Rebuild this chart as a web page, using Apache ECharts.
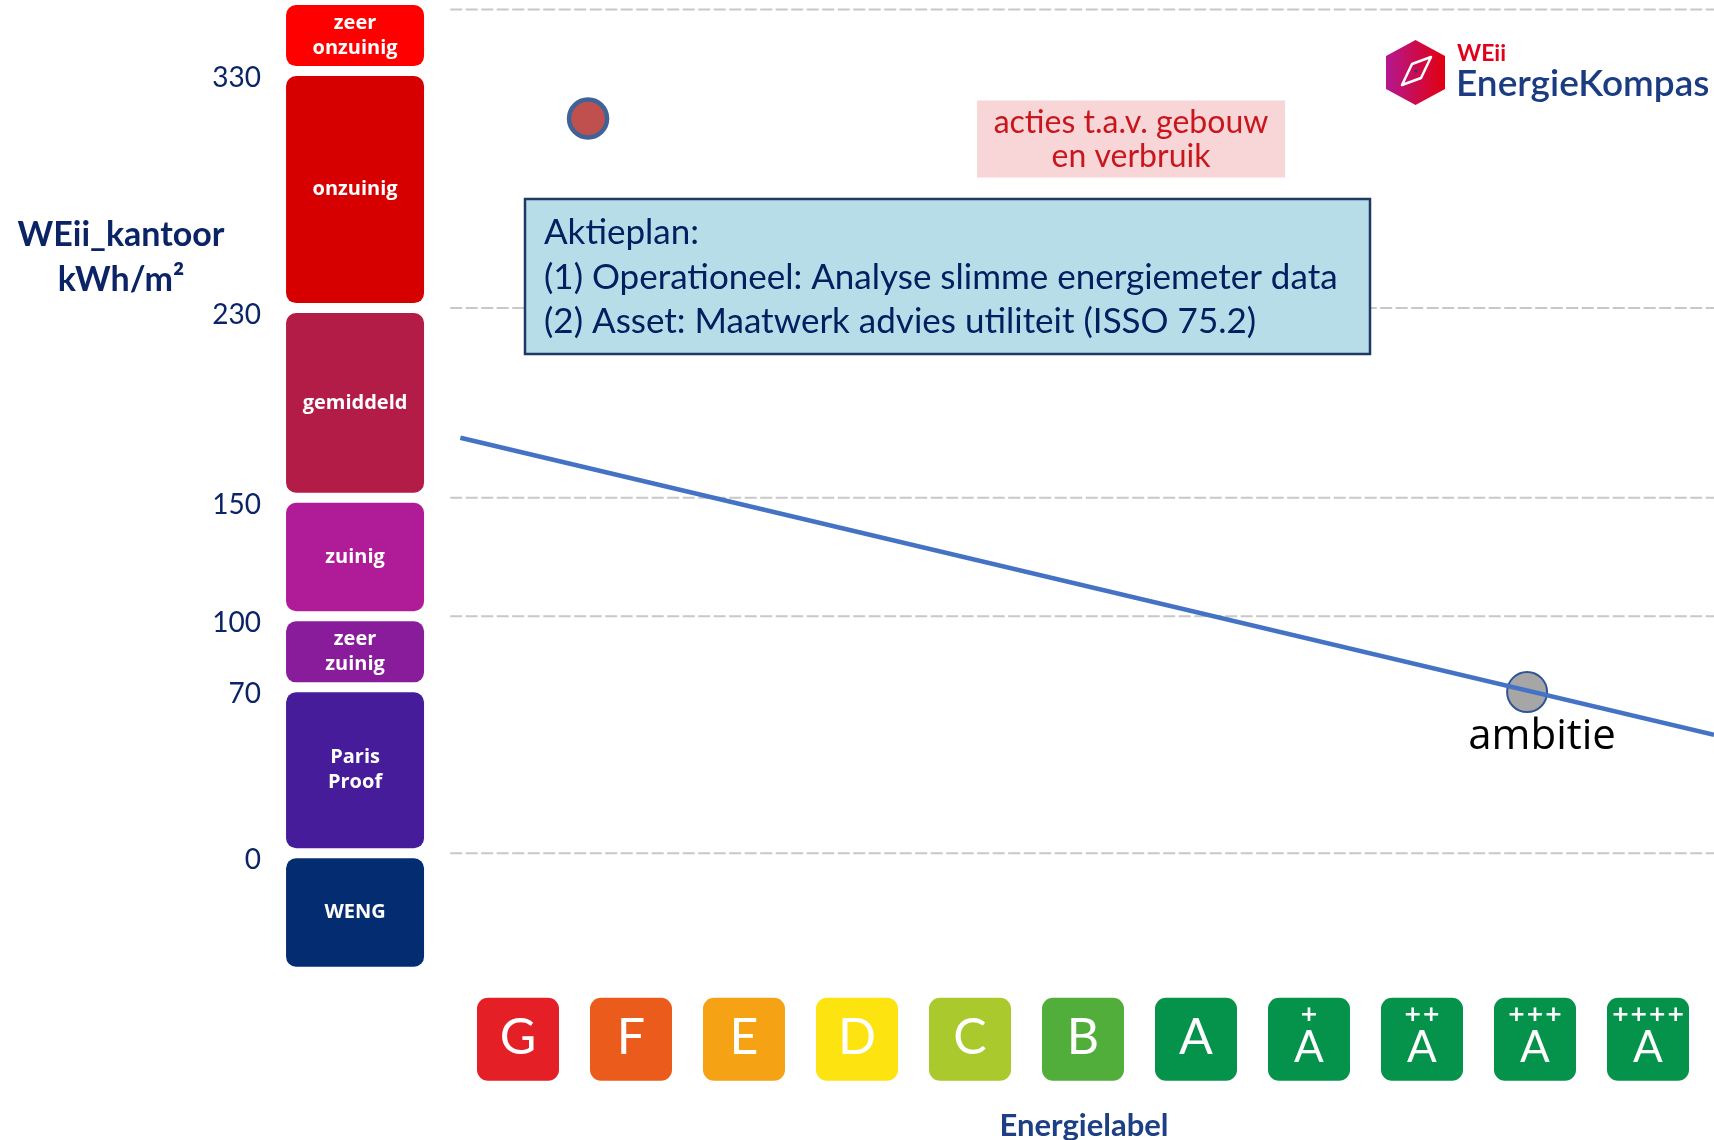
<!DOCTYPE html>
<html><head><meta charset="utf-8">
<script src="https://cdn.jsdelivr.net/npm/echarts@6/dist/echarts.min.js"></script>
<style>html,body{margin:0;padding:0;background:#fff}#c{width:1714px;height:1140px}</style>
</head><body><div id="c"></div>
<script>
// ---- data ----
const yTickLabels = [0, 70, 100, 150, 230, 330];
const gridLineValues = [356, 230, 150, 100, 0];
const bandNames = ['zeer\nonzuinig', 'onzuinig', 'gemiddeld', 'zuinig', 'zeer\nzuinig', 'Paris\nProof', 'WENG'];
const bandLow = [330, 230, 150, 100, 70, 0, -50];
const bandHigh = [360, 330, 230, 150, 100, 70, 0];
const bandColors = ['#fe0000', '#d70000', '#b21c46', '#b01c97', '#881c9a', '#461c9b', '#032d70'];
const energyLabels = ['G', 'F', 'E', 'D', 'C', 'B', 'A', 'A+', 'A++', 'A+++', 'A++++'];
const energyColors = ['#e41f26', '#eb5c1c', '#f5a314', '#fde30f', '#a9c92c', '#52ae3a', '#05924a', '#05924a', '#05924a', '#05924a', '#05924a'];
const trendX = [-0.51, 10.584];
const trendY = [175.3, 50.0];
const currentPoint = [0.62, 310];
const ambitionPoint = [8.93, 68];
const ambitionLabel = 'ambitie';

// ---- layout constants ----
const XMIN = -4.584, XMAX = 10.584, YMIN = -121, YMAX = 360;
const GRID_X0 = -0.6;
const BAND_X = -1.442, BAND_W = 138, BAND_GAP = 5;
const LABEL_TOP = -61, LABEL_BOTTOM = -96, LABEL_W = 82;
const NAVY = '#0b2466';

const chart = echarts.init(document.getElementById('c'), null, {renderer: 'canvas'});

const option = {
  animation: false,
  backgroundColor: '#ffffff',
  grid: {left: 0, right: 0, top: 0, bottom: 0},
  xAxis: {type: 'value', min: XMIN, max: XMAX, show: false},
  yAxis: {
    type: 'value', min: YMIN, max: YMAX, position: 'left', offset: -261,
    axisLine: {show: false}, axisTick: {show: false}, splitLine: {show: false},
    axisLabel: {customValues: yTickLabels, margin: 0, color: NAVY, fontSize: 28,
      fontFamily: 'Lato, "Liberation Sans", sans-serif', verticalAlign: 'top', lineHeight: 14}
  },
  series: [
    {
      type: 'custom', z: 1, silent: true,
      data: gridLineValues.map(v => [GRID_X0, v]),
      encode: {x: 0, y: 1},
      renderItem(params, api) {
        const a = api.coord([GRID_X0, api.value(1)]);
        const b = api.coord([XMAX, api.value(1)]);
        return {type: 'line', shape: {x1: a[0], y1: a[1], x2: b[0], y2: b[1]},
          style: {stroke: '#c8c8c8', lineWidth: 2, lineDash: [12, 3.5]}};
      }
    },
    {
      type: 'custom', z: 2, silent: true,
      data: bandNames.map((n, i) => [BAND_X, bandLow[i], bandHigh[i], i]),
      encode: {x: 0, y: [1, 2]},
      renderItem(params, api) {
        const i = api.value(3);
        const top = api.coord([api.value(0), api.value(2)]);
        const bot = api.coord([api.value(0), api.value(1)]);
        const y = top[1] + BAND_GAP;
        const h = bot[1] - top[1] - 2 * BAND_GAP;
        return {type: 'group', children: [
          {type: 'rect', shape: {x: top[0] - BAND_W / 2, y: y, width: BAND_W, height: h, r: 10},
            style: {fill: bandColors[i]}},
          {type: 'text', x: top[0], y: y + h / 2,
            style: {text: bandNames[i], fill: '#ffffff', font: 'bold 20px "Open Sans", "Noto Sans", sans-serif',
              align: 'center', verticalAlign: 'middle', lineHeight: 25}}
        ]};
      }
    },
    {
      type: 'custom', z: 2, silent: true,
      data: energyLabels.map((l, i) => [i, i]),
      encode: {x: 0},
      renderItem(params, api) {
        const i = api.value(1);
        const lab = energyLabels[i];
        const t = api.coord([api.value(0), LABEL_TOP]);
        const b = api.coord([api.value(0), LABEL_BOTTOM]);
        const h = b[1] - t[1];
        const cx = t[0];
        const plus = lab.slice(1);
        const children = [
          {type: 'rect', shape: {x: cx - LABEL_W / 2, y: t[1], width: LABEL_W, height: h, r: 11},
            style: {fill: energyColors[i]}},
          {type: 'text', x: cx, y: t[1] + h / 2 + (plus ? 9 : -1),
            style: {text: lab[0], fill: '#ffffff', font: (plus ? '44px' : '50px') + ' Lato, "Noto Sans", sans-serif',
              align: 'center', verticalAlign: 'middle'}}
        ];
        if (plus) {
          children.push({type: 'text', x: cx, y: t[1] + 17,
            style: {text: plus, fill: '#ffffff', font: 'bold 22px "DejaVu Sans", sans-serif',
              align: 'center', verticalAlign: 'middle'}});
        }
        return {type: 'group', children};
      }
    },
    {
      type: 'scatter', z: 3,
      data: [currentPoint],
      symbolSize: 38,
      itemStyle: {color: '#c0504d', borderColor: '#3f6399', borderWidth: 4.5, opacity: 1}
    },
    {
      type: 'scatter', z: 3,
      data: [ambitionPoint],
      symbolSize: 40,
      itemStyle: {color: '#a6a6a6', borderColor: '#2f5597', borderWidth: 2, opacity: 1},
      label: {show: true, formatter: ambitionLabel, position: 'bottom', distance: 0, offset: [15, 3],
        color: '#000000', fontSize: 42, fontFamily: '"Open Sans", "Noto Sans", sans-serif'}
    },
    {
      type: 'line', z: 4,
      data: trendX.map((x, i) => [x, trendY[i]]),
      symbol: 'none',
      lineStyle: {color: '#4472c4', width: 4.5}
    }
  ],
  graphic: [
    // y-axis title
    {type: 'text', x: 121, y: 258, z: 10,
      style: {text: 'WEii_kantoor\nkWh/m²', fill: NAVY, font: 'bold 34px Lato, "Liberation Sans", sans-serif',
        align: 'center', verticalAlign: 'middle', lineHeight: 45}},
    // x-axis name
    {type: 'text', x: 1084, y: 1126, z: 10,
      style: {text: 'Energielabel', fill: '#1d3f85', font: 'bold 31px Lato, "Liberation Sans", sans-serif',
        align: 'center', verticalAlign: 'middle'}},
    // actieplan box
    {type: 'rect', z: 10, shape: {x: 525, y: 199, width: 845, height: 155},
      style: {fill: '#b7dde8', stroke: '#1f3864', lineWidth: 2.5}},
    {type: 'text', z: 11, x: 544, y: 233,
      style: {text: 'Aktieplan:', fill: '#002060', font: '35px Lato, "Liberation Sans", sans-serif', verticalAlign: 'middle'}},
    {type: 'text', z: 11, x: 544, y: 278,
      style: {text: '(1) Operationeel: Analyse slimme energiemeter data', fill: '#002060', font: '35px Lato, "Liberation Sans", sans-serif', verticalAlign: 'middle'}},
    {type: 'text', z: 11, x: 544, y: 322,
      style: {text: '(2) Asset: Maatwerk advies utiliteit (ISSO 75.2)', fill: '#002060', font: '35px Lato, "Liberation Sans", sans-serif', verticalAlign: 'middle'}},
    // acties box
    {type: 'rect', z: 10, shape: {x: 977, y: 100.5, width: 308, height: 77},
      style: {fill: '#f8d6d8'}},
    {type: 'text', z: 11, x: 1131, y: 140,
      style: {text: 'acties t.a.v. gebouw\nen verbruik', fill: '#c8161d', font: '32px Lato, "Noto Sans", sans-serif',
        align: 'center', verticalAlign: 'middle', lineHeight: 34}},
    // logo
    {type: 'polygon', z: 10,
      shape: {points: [[1415.5, 40], [1445, 56], [1445, 89], [1415.5, 105], [1386, 89], [1386, 56]]},
      style: {fill: new echarts.graphic.LinearGradient(0, 0, 1, 0, [{offset: 0, color: '#b3188f'}, {offset: 1, color: '#e2000f'}]),
        lineJoin: 'round'}},
    {type: 'polygon', z: 11,
      shape: {points: [[1402, 85], [1412, 64], [1431, 57], [1421, 78]]},
      style: {fill: 'none', stroke: '#ffffff', lineWidth: 2.5, lineJoin: 'round'}},
    {type: 'circle', z: 12, shape: {cx: 1416, cy: 71, r: 1.5}, style: {fill: '#1c3c82'}},
    {type: 'text', z: 11, x: 1457, y: 54,
      style: {text: 'WEii', fill: '#e2001a', font: 'bold 23px Lato, "Liberation Sans", sans-serif', verticalAlign: 'middle'}},
    {type: 'text', z: 11, x: 1456, y: 84,
      style: {text: 'EnergieKompas', fill: '#1c3c82', font: '600 37px Lato, "Liberation Sans", sans-serif', verticalAlign: 'middle'}}
  ]
};
chart.setOption(option);
</script>
</body></html>
